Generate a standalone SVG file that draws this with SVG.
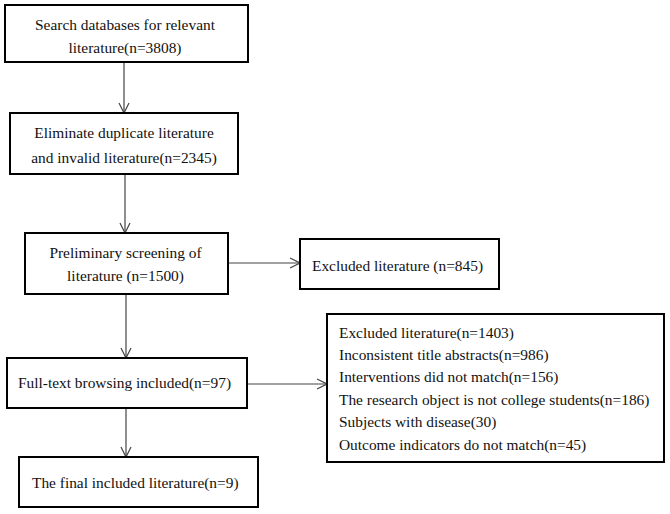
<svg xmlns="http://www.w3.org/2000/svg" width="670" height="514" viewBox="0 0 670 514">
<defs>
<style>
.box{fill:#fff;stroke:#000;stroke-width:2}
.t{font-family:"Liberation Serif","Times New Roman",serif;font-size:15.4px;fill:#111}
.c{text-anchor:middle}
.ln{fill:none;stroke:#444;stroke-width:1.2}
</style>
<marker id="ah" viewBox="0 0 12 12" refX="11" refY="6" markerWidth="12" markerHeight="12" markerUnits="userSpaceOnUse" orient="auto">
<path d="M1,1 L11,6 L1,11" fill="none" stroke="#444" stroke-width="1.2"/>
</marker>
</defs>
<rect width="670" height="514" fill="#fff"/>
<g id="connectors">
<line class="ln" x1="124" y1="62" x2="124" y2="113" marker-end="url(#ah)"/>
<line class="ln" x1="125" y1="174" x2="125" y2="233" marker-end="url(#ah)"/>
<line class="ln" x1="228" y1="263" x2="300" y2="263" marker-end="url(#ah)"/>
<line class="ln" x1="126" y1="294" x2="126" y2="358" marker-end="url(#ah)"/>
<line class="ln" x1="247" y1="384" x2="327" y2="384" marker-end="url(#ah)"/>
<line class="ln" x1="126" y1="408" x2="126" y2="457" marker-end="url(#ah)"/>
</g>
<g id="n1">
<rect class="box" x="5" y="5" width="243" height="57"/>
<text class="t c" x="125" y="30">Search databases for relevant</text>
<text class="t c" x="125" y="53">literature(n=3808)</text>
</g>
<g id="n2">
<rect class="box" x="10" y="113" width="228" height="61"/>
<text class="t c" x="124" y="138">Eliminate duplicate literature</text>
<text class="t c" x="124" y="163">and invalid literature(n=2345)</text>
</g>
<g id="n3">
<rect class="box" x="25" y="233" width="203" height="61"/>
<text class="t c" x="125.5" y="258">Preliminary screening of</text>
<text class="t c" x="125.5" y="281">literature (n=1500)</text>
</g>
<g id="n4">
<rect class="box" x="300" y="239" width="199" height="50"/>
<text class="t" x="312" y="271">Excluded literature (n=845)</text>
</g>
<g id="n5">
<rect class="box" x="7" y="358" width="240" height="50"/>
<text class="t" x="18" y="388">Full-text browsing included(n=97)</text>
</g>
<g id="n6">
<rect class="box" x="327" y="314" width="337" height="148"/>
<text class="t" x="339" y="338">Excluded literature(n=1403)</text>
<text class="t" x="339" y="360">Inconsistent title abstracts(n=986)</text>
<text class="t" x="339" y="382">Interventions did not match(n=156)</text>
<text class="t" x="339" y="405">The research object is not college students(n=186)</text>
<text class="t" x="339" y="427">Subjects with disease(30)</text>
<text class="t" x="339" y="450">Outcome indicators do not match(n=45)</text>
</g>
<g id="n7">
<rect class="box" x="19" y="457" width="239" height="50"/>
<text class="t" x="32" y="488">The final included literature(n=9)</text>
</g>
</svg>
